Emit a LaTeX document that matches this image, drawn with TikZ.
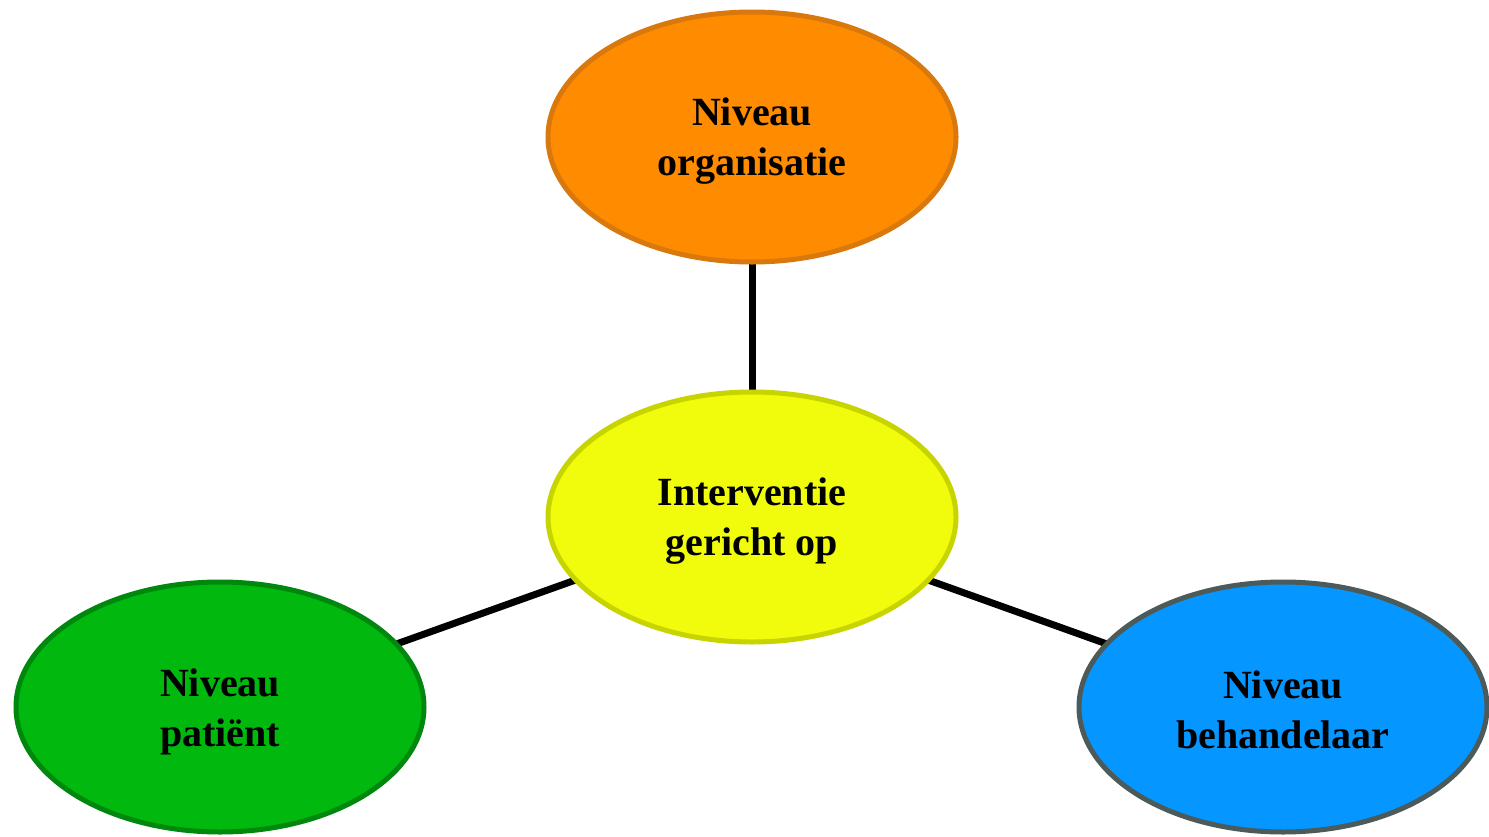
\documentclass[tikz,border=0pt]{standalone}
\usepackage{fontspec}
\setmainfont{Liberation Serif}
\usetikzlibrary{shapes.geometric,backgrounds}
\definecolor{orfill}{HTML}{FF8C00}
\definecolor{ordraw}{HTML}{D9780C}
\definecolor{yefill}{HTML}{F0FC0C}
\definecolor{yedraw}{HTML}{C8D400}
\definecolor{grfill}{HTML}{00B80E}
\definecolor{grdraw}{HTML}{00880E}
\definecolor{blfill}{HTML}{0596FF}
\definecolor{bldraw}{HTML}{4D5A5A}
\tikzset{
  blob/.style={ellipse, minimum width=408pt, minimum height=250pt, inner sep=0pt,
    line width=5pt},
  txt/.style={align=center, inner sep=0pt,
    font=\fontsize{40pt}{50pt}\selectfont\bfseries},
  link/.style={line width=7pt, black}
}
\begin{document}
\begin{tikzpicture}[x=1pt,y=-1pt]
\useasboundingbox (0,0) rectangle (1489,836);
\node[blob, fill=orfill, draw=ordraw] (org) at (752,137) {};
\node[blob, fill=yefill, draw=yedraw] (int) at (752,517) {};
\node[blob, fill=grfill, draw=grdraw] (pat) at (220,707) {};
\node[blob, fill=blfill, draw=bldraw] (beh) at (1283,707) {};
\node[txt] (orgt) at ([yshift=-4pt]org.center) {Niveau\\organisatie};
\node[txt] (intt) at ([yshift=-4pt]int.center) {Interventie\\gericht op};
\node[txt] (patt) at ([yshift=-5pt]pat.center) {Niveau\\patiënt};
\node[txt] (beht) at ([yshift=-3pt]beh.center) {Niveau\\behandelaar};
\begin{scope}[on background layer]
\draw[link] (int.center) -- (org.center);
\draw[link] (int.center) -- (pat.center);
\draw[link] (int.center) -- (beh.center);
\end{scope}
\end{tikzpicture}
\end{document}
